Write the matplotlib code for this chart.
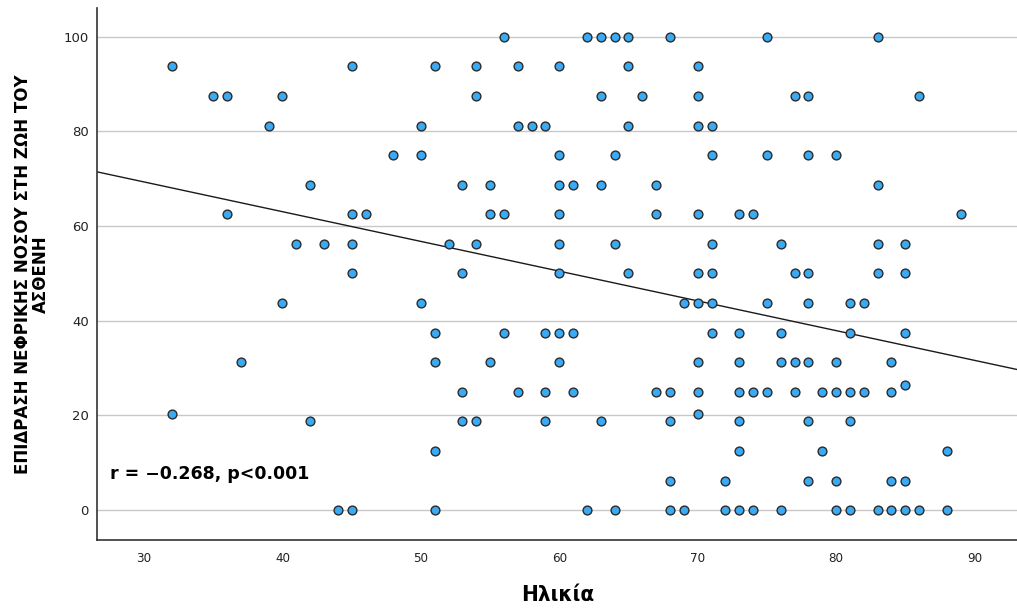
import matplotlib.pyplot as plt
import numpy as np

plt.rcParams["font.family"] = ["DejaVu Sans"]
plt.rcParams["axes.unicode_minus"] = False

# ages and scores, listed row by row (score level from top to bottom)
age = [
    56, 62, 63, 64, 65, 68, 75, 83,
    32, 45, 51, 54, 57, 60, 65, 70,
    35, 36, 40, 54, 63, 66, 70, 77, 78, 86,
    39, 50, 57, 58, 59, 65, 70, 71,
    48, 50, 60, 64, 71, 75, 78, 80,
    42, 53, 55, 60, 61, 63, 67, 83,
    36, 45, 46, 55, 56, 60, 67, 70, 73, 74, 89,
    41, 43, 45, 52, 54, 60, 64, 71, 76, 83, 85,
    45, 53, 60, 65, 70, 71, 77, 78, 83, 85,
    40, 50, 69, 70, 71, 75, 78, 81, 82,
    51, 56, 59, 60, 61, 71, 73, 76, 81, 85,
    37, 51, 55, 60, 70, 73, 76, 77, 78, 80, 84,
    85,
    53, 57, 59, 61, 67, 68, 70, 73, 74, 75, 77, 79, 80, 81, 82, 84,
    32, 70,
    42, 53, 54, 59, 63, 68, 73, 78, 81,
    51, 73, 79, 88,
    68, 72, 78, 80, 84, 85,
    44, 45, 51, 62, 64, 68, 69, 72, 73, 74, 76, 80, 81, 83, 84, 85, 86, 88,
]
score = (
    [100] * 8 + [93.75] * 8 + [87.5] * 10 + [81.25] * 8 + [75] * 8
    + [68.75] * 8 + [62.5] * 11 + [56.25] * 11 + [50] * 10 + [43.75] * 9
    + [37.5] * 10 + [31.25] * 11 + [26.5] + [25] * 16 + [20.3] * 2
    + [18.75] * 9 + [12.5] * 4 + [6.25] * 6 + [0] * 18
)

y_ticks = [0, 20, 40, 60, 80, 100]
x_ticks = [30, 40, 50, 60, 70, 80, 90]
stat_text = "r = \u22120.268, p<0.001"
x_title = "Ηλικία"
y_title = "ΕΠΙΔΡΑΣΗ ΝΕΦΡΙΚΗΣ ΝΟΣΟΥ ΣΤΗ ΖΩΗ ΤΟΥ\nΑΣΘΕΝΗ"

fig = plt.figure(figsize=(10.17, 6.08), dpi=100)
ax = fig.add_axes([0.0954, 0.112, 0.905, 0.875])

x_lim = (26.6, 93.1)
ax.set_xlim(*x_lim)
ax.set_ylim(-6.3, 106.1)

ax.set_yticks(y_ticks)
ax.set_xticks(x_ticks)
ax.grid(axis="y", color="#c8c8c8", linewidth=1.0)
ax.set_axisbelow(True)

slope, intercept = np.polyfit(age, score, 1)
xs = np.array(x_lim)
ax.plot(xs, intercept + slope * xs, color="#1a1a1a", linewidth=1.0, zorder=2)

ax.scatter(age, score, s=40, facecolor="#3aaaf4", edgecolor="#2b2b2b",
           linewidth=1.0, zorder=3)

ax.text(0.014, 0.124, stat_text, transform=ax.transAxes, fontsize=12.5,
        fontweight="bold", va="center", ha="left")

for side in ["top", "right"]:
    ax.spines[side].set_visible(False)
for side in ["left", "bottom"]:
    ax.spines[side].set_color("#333333")
    ax.spines[side].set_linewidth(1.2)

ax.tick_params(axis="both", length=0, colors="#222222")
ax.tick_params(axis="y", labelsize=9.5, pad=6)
ax.tick_params(axis="x", labelsize=9.5, pad=9)
for lab in ax.get_xticklabels():
    lab.set_fontstretch("condensed")

ax.set_xlabel(x_title, fontsize=16, fontweight="bold", labelpad=14,
              fontstretch="condensed")
ax.set_ylabel(y_title, fontsize=12, fontweight="bold", labelpad=10,
              linespacing=0.95)

fig.savefig("out.png", dpi=100)
